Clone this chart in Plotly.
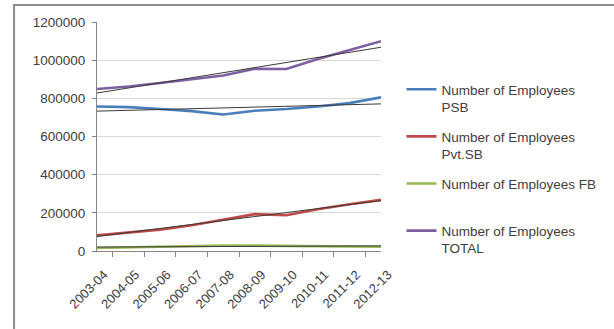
import numpy as np
import plotly.graph_objects as go

# Financial years
years = ["2003-04", "2004-05", "2005-06", "2006-07", "2007-08",
         "2008-09", "2009-10", "2010-11", "2011-12", "2012-13"]

# Number of employees by bank group
psb = [757000, 754000, 744000, 733000, 715000, 735000, 744000, 757000, 775000, 805000]
pvt_sb = [82000, 96000, 112000, 135000, 163000, 193000, 187000, 219000, 245000, 268000]
fb = [16000, 19000, 22000, 25000, 29000, 28000, 27000, 26000, 23000, 22000]
total = [849000, 862000, 880000, 901000, 920000, 955000, 954000, 1006000, 1051000, 1099000]

series = [
    ("Number of Employees<br>PSB", psb, "#4A7EBB"),
    ("Number of Employees<br>Pvt.SB", pvt_sb, "#BE4B48"),
    ("Number of Employees FB<br> ", fb, "#98B954"),
    ("Number of Employees<br>TOTAL", total, "#7D60A0"),
]

text_color = "#404040"
font_family = "Liberation Sans, Arial, sans-serif"

fig = go.Figure()

for i, (name, values, color) in enumerate(series):
    fig.add_trace(go.Scatter(
        x=years, y=values, mode="lines", name=name,
        legendgroup=f"g{i}",
        line=dict(color=color, width=2.6),
    ))

# Linear trend line for each series
idx = np.arange(len(years))
for i, (name, values, color) in enumerate(series):
    slope, intercept = np.polyfit(idx, values, 1)
    fig.add_trace(go.Scatter(
        x=years, y=slope * idx + intercept, mode="lines",
        showlegend=False, hoverinfo="skip",
        line=dict(color="#3a3a3a", width=1),
    ))

# Pixel geometry of the plot area
L, R, T, B = 97, 388, 22, 251
W, H = R - L, B - T


def px_x(p):
    return (p - L) / W


def px_y(p):
    return (B - p) / H


# Outer chart border
fig.add_shape(type="rect", xref="paper", yref="paper",
              x0=px_x(12), x1=px_x(640), y0=px_y(5), y1=px_y(360),
              line=dict(color="#8C8C8C", width=2), fillcolor="rgba(0,0,0,0)",
              layer="below")

fig.update_layout(
    width=614, height=329,
    margin=dict(l=L, r=614 - R, t=T, b=329 - B),
    paper_bgcolor="white", plot_bgcolor="white",
    font=dict(family=font_family, size=13.5, color=text_color),
    legend=dict(
        x=px_x(409), y=px_y(74), xanchor="left", yanchor="top",
        font=dict(size=13.5, color=text_color),
        valign="top", tracegroupgap=9,
        bgcolor="rgba(0,0,0,0)",
    ),
    xaxis=dict(
        type="category", tickson="boundaries", ticks="outside", ticklen=5,
        tickcolor="#868686", showline=True, linecolor="#868686", linewidth=1,
        showgrid=False, tickangle=-45, tickfont=dict(size=13, color=text_color),
        ticklabelstandoff=10, ticklabelshift=7,
    ),
    yaxis=dict(
        range=[0, 1200000], dtick=200000, tickformat="d",
        showgrid=True, gridcolor="#D9D9D9", gridwidth=1,
        showline=True, linecolor="#868686", linewidth=1,
        ticks="outside", ticklen=4, tickcolor="#868686",
        zeroline=False, tickfont=dict(size=13.5, color=text_color),
        ticklabelstandoff=4,
    ),
)

fig.write_html("out.html")
